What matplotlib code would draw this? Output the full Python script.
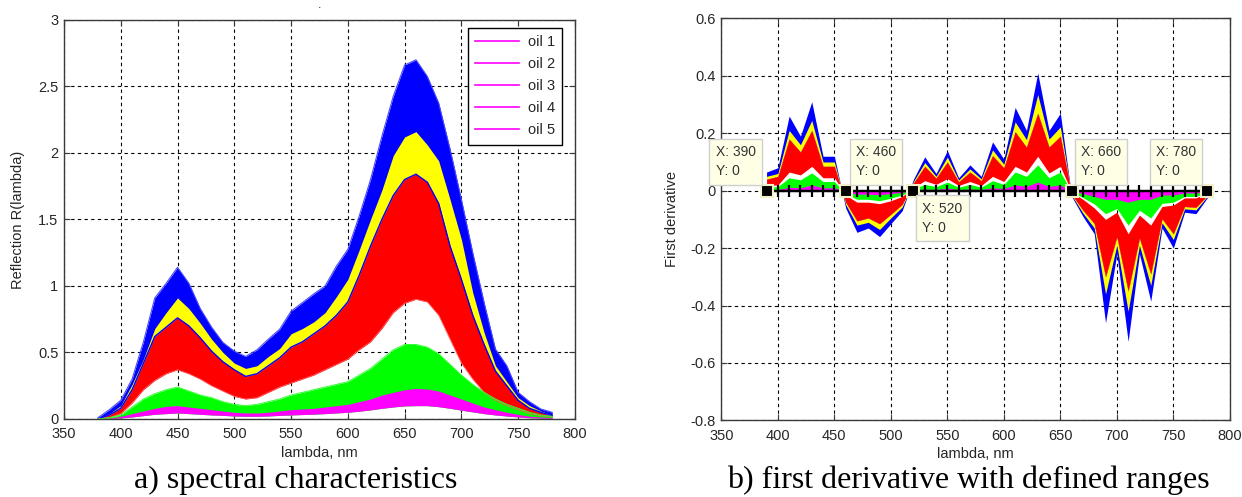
import matplotlib
matplotlib.use("Agg")
import matplotlib.pyplot as plt
from matplotlib.lines import Line2D
from matplotlib.ticker import FuncFormatter

plt.rcParams['font.family'] = ['Liberation Sans', 'DejaVu Sans']
plt.rcParams['axes.unicode_minus'] = False

# ---------------- spectral characteristics (envelopes of each oil family) ----------------
WAVELENGTH = [380, 390, 400, 410, 420, 430, 440, 450, 460, 470, 480, 490, 500, 510,
              520, 530, 540, 550, 560, 570, 580, 590, 600, 610, 620, 630, 640, 650,
              660, 670, 680, 690, 700, 710, 720, 730, 740, 750, 760, 770, 780]

BLUE_TOP = [0.01, 0.07, 0.14, 0.30, 0.58, 0.91, 1.02, 1.14, 1.02, 0.83, 0.69, 0.575, 0.51, 0.47,
            0.52, 0.60, 0.675, 0.81, 0.875, 0.94, 1.00, 1.15, 1.275, 1.525, 1.80, 2.125, 2.425, 2.66,
            2.70, 2.575, 2.375, 2.03, 1.65, 1.25, 0.875, 0.525, 0.40, 0.20, 0.13, 0.075, 0.05]

YELLOW_TOP = [0.005, 0.04, 0.10, 0.26, 0.45, 0.68, 0.80, 0.91, 0.83, 0.72, 0.60, 0.50, 0.42, 0.38,
              0.40, 0.47, 0.53, 0.64, 0.68, 0.73, 0.80, 0.92, 1.05, 1.27, 1.50, 1.72, 1.98, 2.12,
              2.16, 2.06, 1.94, 1.65, 1.35, 0.95, 0.65, 0.40, 0.28, 0.16, 0.10, 0.06, 0.03]

RED_TOP = [0.0, 0.03, 0.08, 0.22, 0.42, 0.62, 0.69, 0.76, 0.70, 0.61, 0.51, 0.43, 0.37, 0.32,
           0.34, 0.40, 0.46, 0.54, 0.58, 0.64, 0.70, 0.78, 0.88, 1.08, 1.30, 1.50, 1.68, 1.80,
           1.84, 1.78, 1.62, 1.30, 1.05, 0.78, 0.56, 0.36, 0.25, 0.14, 0.08, 0.05, 0.025]

RED_BOTTOM = [0.0, 0.01, 0.04, 0.12, 0.22, 0.29, 0.34, 0.37, 0.34, 0.30, 0.25, 0.21, 0.17, 0.15,
              0.16, 0.20, 0.24, 0.27, 0.30, 0.33, 0.37, 0.41, 0.45, 0.52, 0.58, 0.68, 0.80, 0.87,
              0.90, 0.88, 0.78, 0.60, 0.42, 0.30, 0.20, 0.14, 0.10, 0.07, 0.04, 0.025, 0.015]

GREEN_TOP = [0.0, 0.01, 0.03, 0.09, 0.15, 0.19, 0.22, 0.24, 0.21, 0.18, 0.16, 0.13, 0.11, 0.10,
             0.11, 0.13, 0.15, 0.18, 0.20, 0.22, 0.24, 0.26, 0.28, 0.33, 0.38, 0.45, 0.52, 0.56,
             0.56, 0.54, 0.49, 0.41, 0.33, 0.26, 0.20, 0.15, 0.11, 0.08, 0.05, 0.03, 0.02]

MAGENTA_TOP = [0.0, 0.005, 0.02, 0.04, 0.06, 0.08, 0.095, 0.10, 0.09, 0.08, 0.07, 0.06, 0.05, 0.045,
               0.045, 0.05, 0.06, 0.07, 0.075, 0.08, 0.09, 0.10, 0.11, 0.13, 0.15, 0.18, 0.20, 0.22,
               0.23, 0.225, 0.21, 0.18, 0.15, 0.12, 0.09, 0.07, 0.05, 0.035, 0.02, 0.015, 0.01]

MAGENTA_BOTTOM = [0.0, 0.002, 0.008, 0.015, 0.025, 0.035, 0.04, 0.045, 0.04, 0.035, 0.03, 0.027, 0.022, 0.02,
                  0.02, 0.022, 0.027, 0.03, 0.033, 0.036, 0.04, 0.045, 0.05, 0.058, 0.068, 0.08, 0.09, 0.098,
                  0.10, 0.10, 0.092, 0.08, 0.066, 0.053, 0.04, 0.03, 0.022, 0.015, 0.009, 0.006, 0.004]

OIL_LABELS = ['oil 1', 'oil 2', 'oil 3', 'oil 4', 'oil 5']

# ---------------- first derivative (outer / inner envelopes) ----------------
D_WAVELENGTH = WAVELENGTH[1:]

D_BLUE = [0.065, 0.08, 0.26, 0.19, 0.31, 0.12, 0.12, -0.06, -0.145, -0.13, -0.16, -0.115, -0.07,
          0.04, 0.118, 0.06, 0.14, 0.045, 0.09, 0.05, 0.17, 0.11, 0.29, 0.21, 0.41, 0.21, 0.27,
          -0.02, -0.09, -0.15, -0.46, -0.22, -0.525, -0.22, -0.385, -0.13, -0.20, -0.075, -0.08, -0.025]

D_YELLOW = [0.05, 0.06, 0.21, 0.16, 0.245, 0.10, 0.10, -0.048, -0.12, -0.11, -0.135, -0.095, -0.057,
            0.032, 0.098, 0.05, 0.117, 0.037, 0.076, 0.041, 0.142, 0.092, 0.24, 0.178, 0.335, 0.18, 0.222,
            -0.016, -0.078, -0.13, -0.36, -0.19, -0.42, -0.19, -0.33, -0.112, -0.17, -0.063, -0.067, -0.02]

D_RED_OUTER = [0.04, 0.05, 0.18, 0.135, 0.21, 0.085, 0.085, -0.04, -0.105, -0.095, -0.115, -0.082, -0.048,
               0.027, 0.085, 0.044, 0.10, 0.031, 0.065, 0.035, 0.122, 0.08, 0.205, 0.152, 0.27, 0.152, 0.19,
               -0.013, -0.068, -0.114, -0.30, -0.16, -0.35, -0.165, -0.29, -0.098, -0.15, -0.055, -0.058, -0.017]

D_RED_INNER = [0.018, 0.02, 0.065, 0.055, 0.085, 0.045, 0.045, -0.015, -0.04, -0.04, -0.045, -0.035, -0.02,
               0.01, 0.035, 0.022, 0.042, 0.018, 0.032, 0.018, 0.05, 0.032, 0.085, 0.065, 0.12, 0.062, 0.085,
               -0.005, -0.03, -0.06, -0.10, -0.075, -0.15, -0.085, -0.12, -0.055, -0.05, -0.025, -0.025, -0.008]

D_GREEN = [0.012, 0.014, 0.045, 0.038, 0.062, 0.032, 0.032, -0.01, -0.03, -0.03, -0.035, -0.026, -0.015,
           0.006, 0.022, 0.014, 0.03, 0.012, 0.022, 0.012, 0.035, 0.022, 0.065, 0.05, 0.09, 0.045, 0.065,
           -0.004, -0.024, -0.046, -0.08, -0.062, -0.12, -0.068, -0.095, -0.044, -0.04, -0.02, -0.02, -0.006]

D_MAGENTA = [0.003, 0.004, 0.012, 0.01, 0.02, 0.01, 0.01, -0.004, -0.012, -0.012, -0.014, -0.01, -0.006,
             0.002, 0.006, 0.004, 0.009, 0.004, 0.006, 0.004, 0.01, 0.008, 0.02, 0.015, 0.03, 0.015, 0.02,
             -0.002, -0.01, -0.02, -0.03, -0.03, -0.04, -0.03, -0.03, -0.015, -0.015, -0.008, -0.008, -0.003]

ZERO_LINE = [0.0] * len(D_WAVELENGTH)

RANGE_BOUNDS = [390, 460, 520, 660, 780]
RANGE_VALUES = [0, 0, 0, 0, 0]
# centre (x, y) of each data-tip box, in data units
TIP_POSITIONS = [(362.6, 0.101), (486.9, 0.101), (545.8, -0.096), (685.9, 0.101), (752.3, 0.101)]

BLUE, YELLOW, RED, GREEN, MAGENTA = '#0000ff', '#ffff00', '#ff0000', '#00ff00', '#ff00ff'

fig = plt.figure(figsize=(12.42, 4.97), dpi=100)
ax1 = fig.add_axes([0.0515, 0.157, 0.4114, 0.803])
ax2 = fig.add_axes([0.5808, 0.1543, 0.4094, 0.8085])

fmt = FuncFormatter(lambda v, p: f"{v:g}")


def style_axes(ax):
    ax.set_axisbelow(True)
    ax.grid(True, color='black', linestyle=(0, (3, 3)), linewidth=0.8)
    for s in ax.spines.values():
        s.set_color('#3a3a3a')
        s.set_linewidth(1.0)
    ax.tick_params(direction='in', top=True, right=True, length=4, width=0.8,
                   colors='#3a3a3a', labelsize=10.5, labelcolor='#262626')
    ax.tick_params(axis='x', pad=6)
    ax.tick_params(axis='y', pad=4)
    ax.xaxis.set_major_formatter(fmt)
    ax.yaxis.set_major_formatter(fmt)


# ----- left panel -----
ax1.fill_between(WAVELENGTH, RED_TOP, BLUE_TOP, color=BLUE, linewidth=0)
ax1.plot(WAVELENGTH, BLUE_TOP, color='#4a4aff', linewidth=0.8)
ax1.fill_between(WAVELENGTH, RED_TOP, YELLOW_TOP, color=YELLOW, linewidth=0)
ax1.fill_between(WAVELENGTH, RED_BOTTOM, RED_TOP, color=RED, linewidth=0)
ax1.plot(WAVELENGTH, RED_TOP, color=BLUE, linewidth=1.0)
ax1.plot(WAVELENGTH, RED_BOTTOM, color='#ff6060', linewidth=0.6)
ax1.fill_between(WAVELENGTH, MAGENTA_BOTTOM, GREEN_TOP, color=GREEN, linewidth=0)
ax1.plot(WAVELENGTH, GREEN_TOP, color='#33ff33', linewidth=0.7)
ax1.fill_between(WAVELENGTH, MAGENTA_BOTTOM, MAGENTA_TOP, color=MAGENTA, linewidth=0)

ax1.set_xlim(350, 800)
ax1.set_ylim(0, 3)
ax1.set_xticks([350, 400, 450, 500, 550, 600, 650, 700, 750, 800])
ax1.set_yticks([0, 0.5, 1, 1.5, 2, 2.5, 3])
style_axes(ax1)
ax1.set_xlabel('lambda, nm', fontsize=10.5, color='#262626')
ax1.set_ylabel('Reflection R(lambda)', fontsize=10.5, color='#262626')
ax1.xaxis.set_label_coords(0.5, -0.068)
ax1.yaxis.set_label_coords(-0.077, 0.5)
ax1.text(0.5, 1.03, '.', transform=ax1.transAxes, ha='center', fontsize=9, color='#262626')

handles = [Line2D([], [], color=MAGENTA, linewidth=1.2) for _ in OIL_LABELS]
leg = ax1.legend(handles, OIL_LABELS, loc='upper right', bbox_to_anchor=(0.989, 0.998),
                 fontsize=10.5, handlelength=3.0, labelspacing=0.55, borderpad=0.5,
                 handletextpad=0.6, fancybox=False, framealpha=1, edgecolor='black')
leg.get_frame().set_linewidth(1.0)
for t in leg.get_texts():
    t.set_color('#262626')

# ----- right panel -----
ax2.fill_between(D_WAVELENGTH, D_RED_OUTER, D_BLUE, color=BLUE, linewidth=0)
ax2.fill_between(D_WAVELENGTH, D_RED_OUTER, D_YELLOW, color=YELLOW, linewidth=0)
ax2.fill_between(D_WAVELENGTH, D_RED_INNER, D_RED_OUTER, color=RED, linewidth=0)
ax2.fill_between(D_WAVELENGTH, ZERO_LINE, D_GREEN, color=GREEN, linewidth=0)
ax2.fill_between(D_WAVELENGTH, ZERO_LINE, D_MAGENTA, color=MAGENTA, linewidth=0)

ax2.plot(D_WAVELENGTH, ZERO_LINE, color='black', linewidth=1.6, marker='+',
         markersize=9, markeredgewidth=1.6, zorder=4)
ax2.plot(RANGE_BOUNDS, RANGE_VALUES, linestyle='none', marker='s', markersize=8.5,
         markerfacecolor='black', markeredgecolor='#f3efc8', markeredgewidth=1.5, zorder=5)

for bx, (tx, ty) in zip(RANGE_BOUNDS, TIP_POSITIONS):
    ax2.text(tx, ty, f"X: {bx}\nY: 0", ha='center', va='center', multialignment='left',
             fontsize=10, color='#333333', linespacing=1.5, zorder=6,
             bbox=dict(boxstyle='square,pad=0.45', facecolor='#ffffe6', edgecolor='#cfcfcf',
                       linewidth=1.0))

ax2.set_xlim(350, 800)
ax2.set_ylim(-0.8, 0.6)
ax2.set_xticks([350, 400, 450, 500, 550, 600, 650, 700, 750, 800])
ax2.set_yticks([-0.8, -0.6, -0.4, -0.2, 0, 0.2, 0.4, 0.6])
style_axes(ax2)
ax2.set_xlabel('lambda, nm', fontsize=10.5, color='#262626')
ax2.set_ylabel('First derivative', fontsize=10.5, color='#262626')
ax2.xaxis.set_label_coords(0.5, -0.066)
ax2.yaxis.set_label_coords(-0.083, 0.5)

# ----- captions -----
serif = ['Liberation Serif', 'DejaVu Serif']
fig.text(296 / 1242, 1 - 488 / 497, 'a) spectral characteristics', ha='center', va='baseline',
         fontsize=23, family=serif, color='black')
fig.text(968 / 1242, 1 - 488 / 497, 'b) first derivative with defined ranges', ha='center',
         va='baseline', fontsize=23, family=serif, color='black')

fig.savefig('out.png', dpi=100, facecolor='white')
